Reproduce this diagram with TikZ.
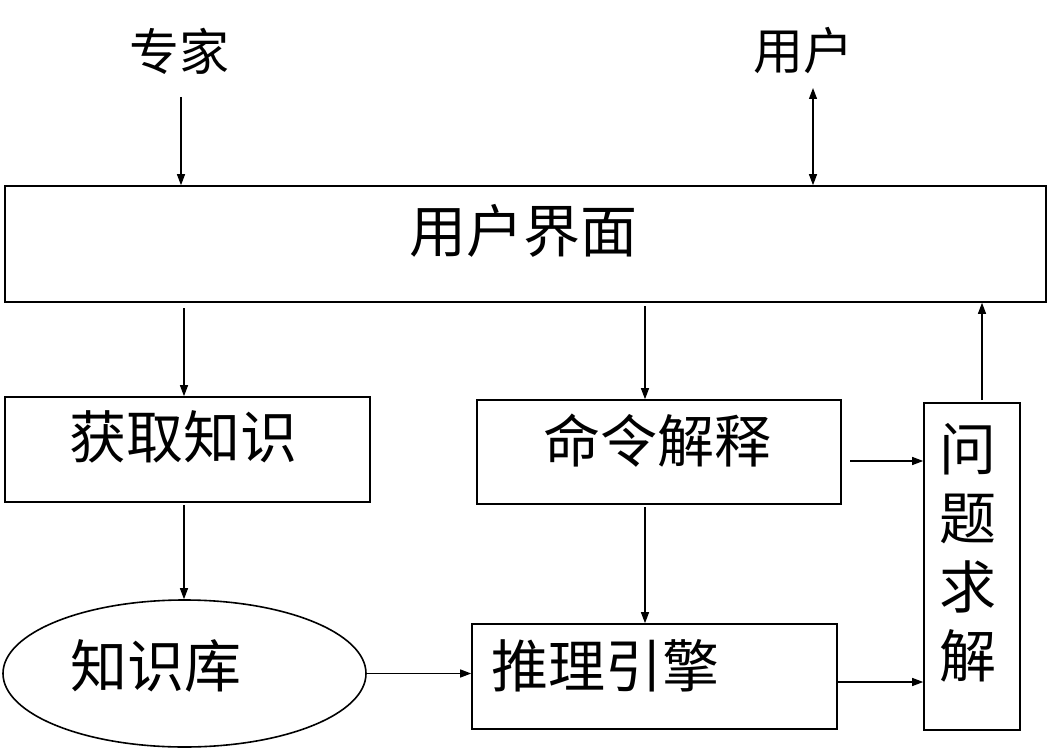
\documentclass[tikz,border=0pt]{standalone}
\usepackage{fontspec}
\setmainfont{Noto Sans CJK SC}
\usetikzlibrary{arrows.meta,shapes.geometric}
\begin{document}
\begin{tikzpicture}[x=1pt,y=-1pt,
  boxst/.style={draw,line width=1.6pt,rectangle,inner sep=0pt},
  lbl/.style={font=\fontsize{57}{69}\selectfont,inner sep=0pt},
  toplbl/.style={font=\fontsize{50}{50}\selectfont,inner sep=0pt},
  arr/.style={line width=1.2pt,-{Triangle[length=11pt,width=8pt]}},
  darr/.style={line width=1.2pt,{Triangle[length=11pt,width=8pt]}-{Triangle[length=11pt,width=8pt]}}]
\useasboundingbox (0,0) rectangle (1052,749);
\node[toplbl] (expert) at (179,51) {专家};
\node[toplbl] (user) at (803,51) {用户};
\node[boxst,minimum width=1041pt,minimum height=116pt] (ui) at (525.5,244) {};
\node[lbl] (uilbl) at (523,231) {用户界面};
\node[boxst,minimum width=365pt,minimum height=105pt] (acq) at (187.5,449.5) {};
\node[lbl] (acqlbl) at (183,437) {获取知识};
\node[boxst,minimum width=364pt,minimum height=104pt] (cmd) at (659,452) {};
\node[lbl] (cmdlbl) at (657,441) {命令解释};
\node[boxst,minimum width=365pt,minimum height=105pt] (inf) at (654.5,676.5) {};
\node[lbl] (inflbl) at (605,666) {推理引擎};
\node[draw,line width=1.6pt,ellipse,minimum width=363pt,minimum height=147pt,inner sep=0pt] (kb) at (184.5,673.5) {};
\node[lbl] (kblbl) at (156,666) {知识库};
\node[boxst,minimum width=96pt,minimum height=327pt] (solve) at (972,566.5) {};
\node[lbl,align=center] (solvelbl) at (968,553) {问\\题\\求\\解};
\coordinate (e1) at (181,97);
\coordinate (u1) at (813,88);
\coordinate (a0) at (184,308);
\coordinate (c1) at (645,306);
\coordinate (a1) at (184,505);
\coordinate (c3) at (645,507);
\coordinate (c2) at (850,461);
\coordinate (i2) at (838,682);
\coordinate (s1) at (982,400);
\draw[arr] (e1) -- (ui.north -| e1);
\draw[darr] (u1) -- (ui.north -| u1);
\draw[arr] (a0) -- (acq.north -| a0);
\draw[arr] (c1) -- (cmd.north -| c1);
\draw[arr] (a1) -- (kb.north -| a1);
\draw[arr] (c3) -- (inf.north -| c3);
\draw[arr] (kb.east) -- (inf.west |- kb.east);
\draw[arr] (c2) -- (solve.west |- c2);
\draw[arr] (i2) -- (solve.west |- i2);
\draw[arr] (s1) -- (ui.south -| s1);
\end{tikzpicture}
\end{document}
